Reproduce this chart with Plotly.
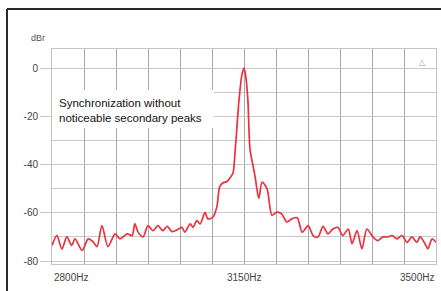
import plotly.graph_objects as go

freq_hz = [2800, 2809, 2818, 2827, 2836, 2842, 2855, 2866, 2875, 2882, 2891, 2902, 2915, 2924,
           2937, 2946, 2951, 2957, 2966, 2975, 2984, 2993, 3002, 3010, 3019, 3030, 3037, 3042,
           3052, 3057, 3064, 3070, 3079, 3084, 3093, 3101, 3103, 3106, 3112, 3119, 3126, 3130,
           3134, 3141, 3146, 3150, 3153, 3157, 3161, 3166, 3170, 3177, 3183, 3192, 3201, 3210,
           3219, 3228, 3237, 3247, 3256, 3267, 3276, 3285, 3294, 3303, 3312, 3321, 3330, 3340,
           3347, 3356, 3365, 3374, 3385, 3394, 3403, 3412, 3420, 3429, 3438, 3447, 3456, 3465,
           3471, 3480, 3485, 3493, 3500]
level_dbr = [-73.5, -69.4, -75.0, -70.0, -73.5, -70.8, -75.6, -70.8, -72.0, -74.0, -65.3, -74.0,
             -68.7, -70.8, -68.7, -69.4, -64.6, -68.0, -70.0, -65.3, -67.4, -65.3, -67.4, -65.6,
             -67.8, -66.8, -66.0, -68.0, -64.6, -66.0, -63.2, -64.6, -59.8, -62.5, -61.9, -57.0,
             -53.0, -49.0, -47.5, -47.0, -45.0, -43.5, -34.0, -13.0, -3.0, 0.0, -3.0, -13.0,
             -33.7, -40.0, -44.7, -54.0, -47.3, -50.0, -61.0, -59.7, -60.5, -63.8, -62.5, -62.0,
             -68.0, -65.3, -69.4, -70.0, -65.6, -68.7, -66.7, -66.0, -69.4, -66.7, -72.8, -67.4,
             -74.9, -66.7, -70.0, -71.5, -70.0, -70.0, -69.4, -70.8, -69.4, -72.2, -70.0, -72.2,
             -70.0, -72.8, -74.9, -70.8, -72.2]

y_tick_vals = [0, -20, -40, -60, -80]
y_tick_text = ["0", "-20", "-40", "-60", "-80"]
x_label_vals = [2800, 3150, 3500]
x_label_text = ["2800Hz", "3150Hz", "3500Hz"]
note_text = "Synchronization without<br>noticeable secondary peaks"

FONT = "Arial, Liberation Sans, sans-serif"

fig = go.Figure()
fig.add_trace(go.Scatter(x=freq_hz, y=level_dbr, mode="lines",
                         line=dict(color="#e8323c", width=1.7, shape="spline", smoothing=0.8),
                         hoverinfo="skip", showlegend=False))

fig.update_layout(
    width=441, height=291,
    margin=dict(l=52, r=5, t=49, b=27),
    paper_bgcolor="#ffffff", plot_bgcolor="#ffffff",
    font=dict(family=FONT, size=10, color="#444444"),
    xaxis=dict(range=[2800, 3500], dtick=700 / 12, tick0=2800, showticklabels=False,
               showgrid=True, gridcolor="#a8a8a8", gridwidth=1, zeroline=False,
               showline=True, mirror=True, linecolor="#c4c4c4", ticks=""),
    yaxis=dict(range=[-81.2, 7.9], tickvals=y_tick_vals, ticktext=y_tick_text,
               ticks="outside", ticklen=11, tickcolor="#c4c4c4",
               tickfont=dict(family=FONT, size=10, color="#444444"),
               showgrid=True, gridcolor="#c8c8c8", gridwidth=1, zeroline=False,
               showline=True, mirror=True, linecolor="#c4c4c4",
               minor=dict(dtick=10, tick0=0, showgrid=True, gridcolor="#c8c8c8", ticks="")),
)

anchors = ["left", "center", "right"]
for v, t, a in zip(x_label_vals, x_label_text, anchors):
    fig.add_annotation(x=v, y=-0.03, xref="x", yref="paper", text=t, showarrow=False,
                       xanchor=a, yanchor="top", font=dict(family=FONT, size=10, color="#444444"))

fig.add_annotation(x=(38 - 52) / 384, y=(264 - 38) / 215, xref="paper", yref="paper",
                   text="dBr", showarrow=False, xanchor="center", yanchor="middle",
                   font=dict(family=FONT, size=9, color="#555555"))

fig.add_shape(type="rect", xref="paper", yref="paper",
              x0=0, x1=(214 - 52) / 384, y0=(264 - 128) / 215, y1=(264 - 90) / 215,
              fillcolor="#ffffff", line=dict(width=0), layer="above")
fig.add_annotation(x=(57 - 52) / 384, y=(264 - 110) / 215, xref="paper", yref="paper",
                   text=note_text, showarrow=False, xanchor="left", yanchor="middle", align="left",
                   font=dict(family=FONT, size=11.5, color="#111111"))

fig.add_annotation(x=(428 - 52) / 384, y=(264 - 56) / 215, xref="paper", yref="paper",
                   text="△", showarrow=False, font=dict(size=8, color="#999999"))

fig.add_shape(type="line", xref="paper", yref="paper",
              x0=(7 - 52) / 384, x1=(7 - 52) / 384, y0=(264 - 292) / 215, y1=(264 - 9) / 215,
              line=dict(color="#2a2a2a", width=2))
fig.add_shape(type="line", xref="paper", yref="paper",
              x0=(7 - 52) / 384, x1=(442 - 52) / 384, y0=(264 - 9) / 215, y1=(264 - 9) / 215,
              line=dict(color="#2a2a2a", width=2))

fig.write_html("out.html", config={"displayModeBar": False},
               post_script="document.body.style.margin='0';")
